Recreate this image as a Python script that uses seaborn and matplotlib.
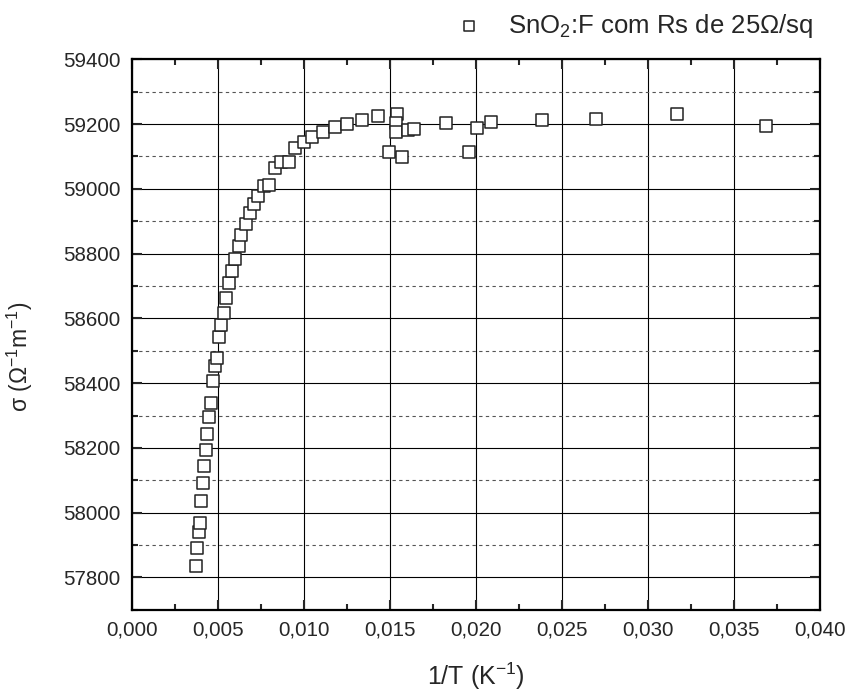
import numpy as np
import pandas as pd
import matplotlib.pyplot as plt
import matplotlib.ticker as mticker
import seaborn as sns

# data
inv_T = [0.00373, 0.00378, 0.00388, 0.00394, 0.00403, 0.00413, 0.00421, 0.00430,
         0.00438, 0.00448, 0.00459, 0.00471, 0.00483, 0.00494, 0.00506, 0.00521,
         0.00535, 0.00550, 0.00566, 0.00583, 0.00600, 0.00622, 0.00637, 0.00662,
         0.00685, 0.00711, 0.00736, 0.00766, 0.00795, 0.00830, 0.00867, 0.00913,
         0.00950, 0.00998, 0.01049, 0.01110, 0.01178, 0.01249, 0.01336, 0.01433,
         0.01497, 0.01541, 0.01537, 0.01537, 0.01570, 0.01605, 0.01641, 0.01825,
         0.01958, 0.02006, 0.02087, 0.02381, 0.02698, 0.03167, 0.03685]
sigma = [57836, 57892, 57941, 57969, 58036, 58092, 58143, 58193,
         58244, 58294, 58339, 58407, 58452, 58479, 58544, 58581,
         58617, 58662, 58708, 58747, 58784, 58824, 58858, 58892,
         58924, 58952, 58978, 59008, 59011, 59063, 59082, 59082,
         59126, 59144, 59159, 59174, 59192, 59200, 59213, 59226,
         59115, 59230, 59202, 59176, 59098, 59183, 59186, 59202,
         59115, 59189, 59206, 59212, 59217, 59230, 59193]
series_label = "SnO$_2$:F com Rs de 25$\\Omega$/sq"

df = pd.DataFrame({"invT": inv_T, "sigma": sigma})

sns.set_style("ticks")
plt.rcParams["font.family"] = ["Liberation Sans", "DejaVu Sans"]
plt.rcParams["mathtext.fontset"] = "custom"
plt.rcParams["mathtext.rm"] = "Liberation Sans"
plt.rcParams["mathtext.it"] = "Liberation Sans"

fig = plt.figure(figsize=(8.5, 6.97), dpi=100)
ax = fig.add_axes([0.155, 0.125, 0.81, 0.79])

sns.scatterplot(data=df, x="invT", y="sigma", marker="s", s=85,
                facecolor="white", edgecolor="#222222", linewidth=1.1,
                label=series_label, ax=ax, zorder=3)

ax.set_xlim(0.0, 0.040)
ax.set_ylim(57700, 59400)
ax.xaxis.set_major_locator(mticker.MultipleLocator(0.005))
ax.xaxis.set_minor_locator(mticker.MultipleLocator(0.0025))
ax.yaxis.set_major_locator(mticker.MultipleLocator(200))
ax.yaxis.set_minor_locator(mticker.MultipleLocator(100))
ax.xaxis.set_major_formatter(mticker.FuncFormatter(lambda v, p: f"{v:.3f}".replace(".", ",")))

ax.grid(which="major", color="black", linewidth=0.8, linestyle="-")
ax.grid(which="minor", axis="y", color="#555555", linewidth=0.8, linestyle=(0, (3, 3)))
ax.set_axisbelow(True)

ax.tick_params(which="both", direction="in", top=True, right=True, labelsize=14.8, width=1.5)
ax.tick_params(which="major", length=7, pad=8)
ax.tick_params(which="minor", length=4)
for sp in ax.spines.values():
    sp.set_linewidth(1.6)
    sp.set_color("black")

ax.set_xlabel("1/T (K$^{-1}$)", fontsize=18, labelpad=15)
ax.set_ylabel("σ (Ω$^{-1}$m$^{-1}$)", fontsize=16.5)
ax.yaxis.set_label_coords(-0.14, 0.46)

ax.legend(loc="lower right", bbox_to_anchor=(1.005, 1.016), frameon=False, fontsize=18.5,
          markerscale=0.75, handletextpad=0.5, borderaxespad=0.0)

fig.savefig("out.png", dpi=100)
